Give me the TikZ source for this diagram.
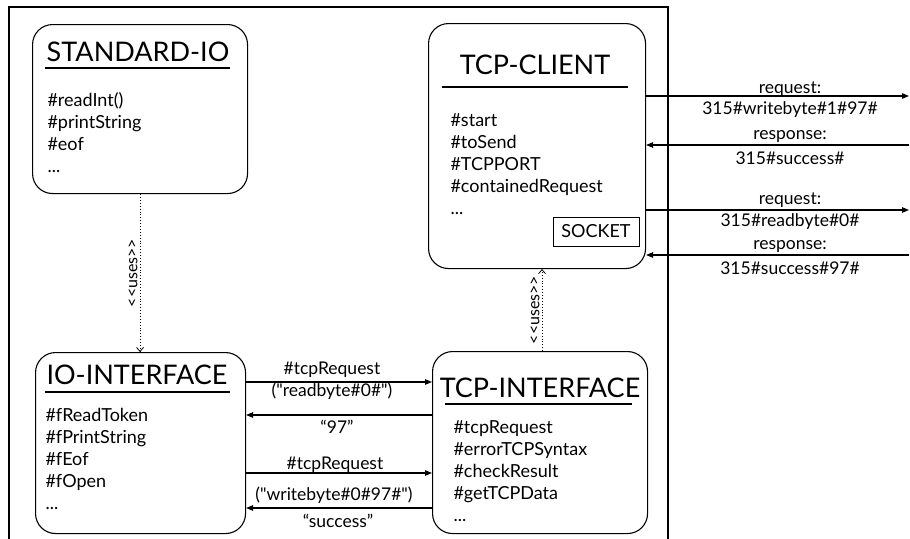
\documentclass[tikz,border=0pt]{standalone}
\usepackage{fontspec}
\setmainfont{Lato}[Ligatures=TeXOff]
\usetikzlibrary{arrows.meta}
\begin{document}
\begin{tikzpicture}[x=1pt,y=-1pt,line width=1.1pt,
  box/.style={draw,rounded corners=20pt,anchor=north west,inner sep=0pt},
  ttl/.style={font=\fontsize{27}{30}\selectfont,inner sep=0pt},
  items/.style={font=\fontsize{18}{22}\selectfont,align=left,anchor=west,inner sep=0pt},
  lbl/.style={font=\fontsize{17.5}{19}\selectfont,inner sep=0pt},
  arr/.style={-{Triangle[length=7pt,width=5.5pt]}},
  uses/.style={dotted,line width=0.9pt,-{Straight Barb[length=4pt,width=7pt,line width=0.8pt]}},
  usestxt/.style={font=\fontsize{16}{18}\selectfont,rotate=90,anchor=south,inner sep=2pt}]
\useasboundingbox (0,0) rectangle (910,538);
% frame
\coordinate (fbl) at (9,545);
\coordinate (ftl) at (9,7);
\coordinate (ftr) at (668,7);
\coordinate (fbr) at (668,545);
\draw (fbl) -- (ftl) -- (ftr) -- (fbr);
% boxes
\node[box,minimum width=215pt,minimum height=169pt] (sio) at (32,24) {};
\node[box,minimum width=217pt,minimum height=245pt] (tcpc) at (428,23) {};
\node[box,minimum width=210pt,minimum height=181pt] (ioi) at (35,352) {};
\node[box,minimum width=215pt,minimum height=182pt] (tcpi) at (432,351) {};
% titles
\node[ttl] (sioT) at (138,51.5) {STANDARD-IO};
\draw (45,68) -- (230,68);
\node[ttl] (tcpcT) at (535,65) {TCP-CLIENT};
\draw (442,87) -- (628,87);
\node[ttl] (ioiT) at (137,375) {IO-INTERFACE};
\draw (45,392) -- (230,392);
\node[ttl] (tcpiT) at (540,388) {TCP-INTERFACE};
\draw (445,404) -- (632,404);
% items
\node[items] (sioI) at (47,133) {\#readInt()\\\#printString\\\#eof\\...};
\node[items] (tcpcI) at (450,164) {\#start\\\#toSend\\\#TCPPORT\\\#containedRequest\\...};
\node[items] (ioiI) at (45,459) {\#fReadToken\\\#fPrintString\\\#fEof\\\#fOpen\\...};
\node[items] (tcpiI) at (453,471) {\#tcpRequest\\\#errorTCPSyntax\\\#checkResult\\\#getTCPData\\...};
% socket
\node[draw,line width=0.9pt,minimum width=86pt,minimum height=29pt,inner sep=0pt,font=\fontsize{18}{20}\selectfont] (sock) at (596,231.5) {SOCKET};
% uses
\draw[uses] (sio.south) -- (sio.south |- ioi.north) node[usestxt,midway] (u1) {<{}<uses>{}>};
\draw[uses] (tcpi.north -| 542,0) -- (tcpc.south -| 542,0) node[usestxt,midway] (u2) {<{}<uses>{}>};
% IO <-> TCP interface
\draw[arr] (ioi.east |- 0,382) -- (tcpi.west |- 0,382);
\draw[arr] (tcpi.west |- 0,415) -- (ioi.east |- 0,415);
\draw[arr] (ioi.east |- 0,473) -- (tcpi.west |- 0,473);
\draw[arr] (tcpi.west |- 0,508) -- (ioi.east |- 0,508);
\node[lbl] (l1a) at (332,370) {\#tcpRequest};
\node[lbl] (l1b) at (332,391) {("readbyte\#0\#")};
\node[lbl] (l2) at (337,427) {“97”};
\node[lbl] (l3a) at (335,465) {\#tcpRequest};
\node[lbl] (l3b) at (334,495) {("writebyte\#0\#97\#")};
\node[lbl] (l4) at (338,521) {“success”};
% TCP client <-> server
\coordinate (s1) at (909,96);
\coordinate (s2) at (909,145);
\coordinate (s3) at (909,210);
\coordinate (s4) at (909,255);
\draw[arr] (tcpc.east |- s1) -- (s1);
\draw[arr] (s2) -- (tcpc.east |- s2);
\draw[arr] (tcpc.east |- s3) -- (s3);
\draw[arr] (s4) -- (tcpc.east |- s4);
\node[lbl] (r1a) at (790,89) {request:};
\node[lbl] (r1b) at (790,110) {315\#writebyte\#1\#97\#};
\node[lbl] (r2a) at (790,136) {response:};
\node[lbl] (r2b) at (790,158) {315\#success\#};
\node[lbl] (r3a) at (790,200) {request:};
\node[lbl] (r3b) at (790,222) {315\#readbyte\#0\#};
\node[lbl] (r4a) at (790,246) {response:};
\node[lbl] (r4b) at (790,268) {315\#success\#97\#};
\end{tikzpicture}
\end{document}
